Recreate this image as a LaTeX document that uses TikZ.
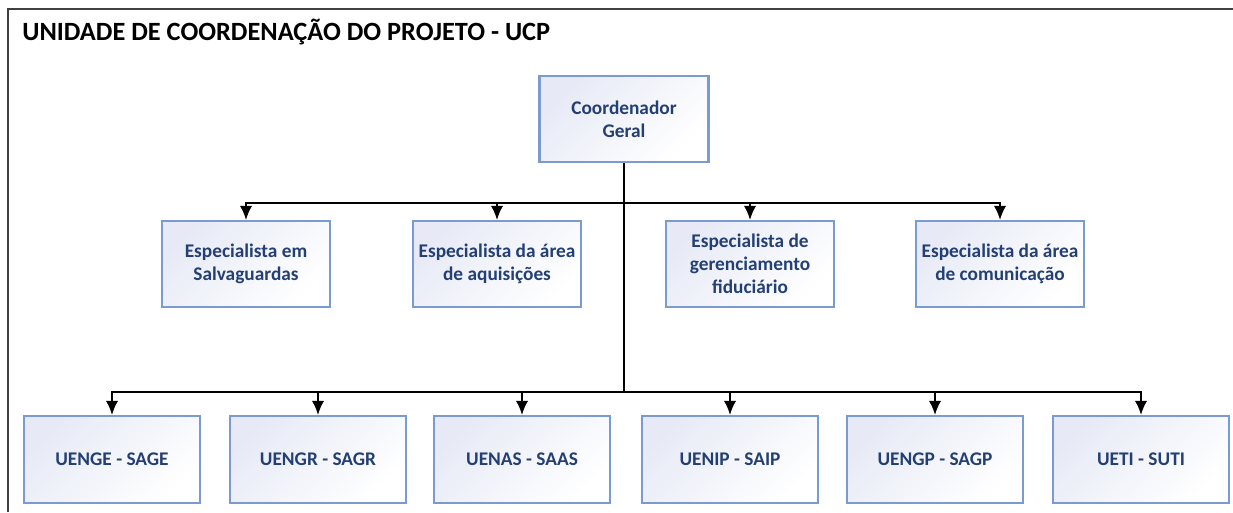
\documentclass[tikz,border=0pt]{standalone}
\usepackage{fontspec}
\setmainfont{Carlito}
\usetikzlibrary{arrows.meta}
\definecolor{caixaborda}{HTML}{7B9AD0}
\definecolor{caixafundo}{HTML}{E7EAF6}
\definecolor{caixatexto}{HTML}{233F73}
\tikzset{
	caixa/.style={draw=caixaborda, line width=1.2pt, top color=caixafundo, bottom color=white, shading angle=45,
		text=caixatexto, font=\bfseries\fontsize{11}{13}\selectfont, align=center, inner sep=2pt},
	chefe/.style={caixa, minimum width=3.38cm, minimum height=1.72cm},
	espec/.style={caixa, minimum width=3.36cm, minimum height=1.72cm},
	unid/.style={caixa, minimum width=3.52cm, minimum height=1.74cm},
	liga/.style={->, line width=1.1pt}
}
\begin{document}
\begin{tikzpicture}[>={Latex[length=8pt,width=7pt]}, x=0.02cm, y=-0.02cm]
		\useasboundingbox (0,0) rectangle (1233,512);
		
		% --- Moldura e titulo ---
		\draw[line width=1.2pt, draw=black!75] (8,512) -- (8,9) -- (1233,9);
		\node[anchor=base west, inner sep=0pt, font=\bfseries\fontsize{15}{18}\selectfont] (titulo) at (22,40) {UNIDADE DE COORDENAÇÃO DO PROJETO - UCP};
		
		% --- Coordenador ---
		\node[chefe] (geral) at (624,119) {Coordenador\\Geral};
		
		% --- Especialistas ---
		\node[espec] (esp1) at (246,264) {Especialista em\\Salvaguardas};
		\node[espec] (esp2) at (497,264) {Especialista da área\\de aquisições};
		\node[espec] (esp3) at (750,264) {Especialista de\\gerenciamento\\fiduciário};
		\node[espec] (esp4) at (1000,264) {Especialista da área\\de comunicação};
		
		% --- Unidades ---
		\node[unid] (ue1) at (112,459.5) {UENGE - SAGE};
		\node[unid] (ue2) at (318,459.5) {UENGR - SAGR};
		\node[unid] (ue3) at (522,459.5) {UENAS - SAAS};
		\node[unid] (ue4) at (730,459.5) {UENIP - SAIP};
		\node[unid] (ue5) at (935,459.5) {UENGP - SAGP};
		\node[unid] (ue6) at (1141,459.5) {UETI - SUTI};
		
		% --- Ligacoes ---
		\coordinate (barra1) at (624,203);
		\coordinate (barra2) at (624,392);
		\draw[line width=1.1pt] (geral.south) -- (barra2);
		\foreach \e in {esp1,esp2,esp3,esp4}
		\draw[liga] (barra1) -| (\e.north);
		\foreach \u in {ue1,ue2,ue3,ue4,ue5,ue6}
		\draw[liga] (barra2) -| (\u.north);
	\end{tikzpicture}
\end{document}
